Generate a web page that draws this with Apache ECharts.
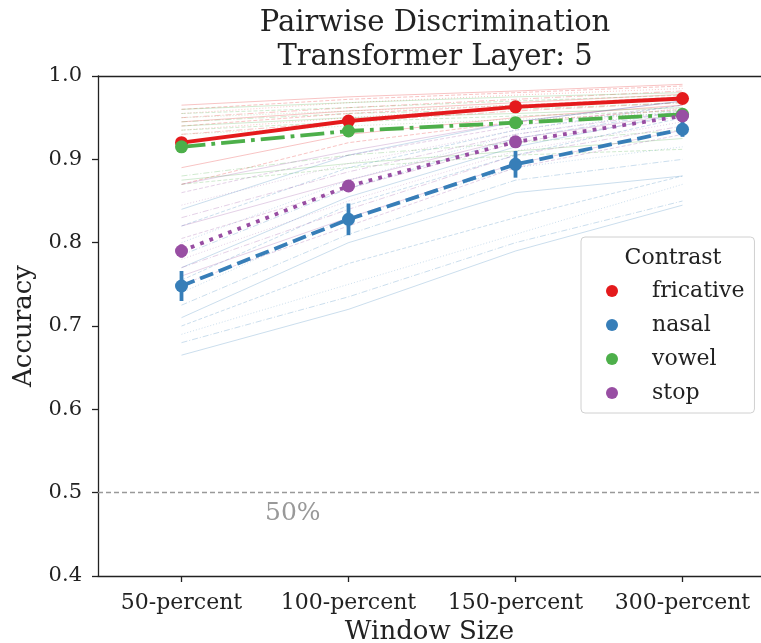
<!DOCTYPE html>
<html>
<head>
<meta charset="utf-8">
<script src="https://cdn.jsdelivr.net/npm/echarts@6/dist/echarts.min.js"></script>
<style>
  html, body { margin: 0; padding: 0; background: #fff; overflow: hidden; }
  #chart { width: 761px; height: 643px; }
</style>
</head>
<body>
<div id="chart"></div>
<script>
// Window sizes on the x axis
const categories = ['50-percent', '100-percent', '150-percent', '300-percent'];
const yTicks = [0.4, 0.5, 0.6, 0.7, 0.8, 0.9, 1.0];

// Contrast groups and their mean accuracy per window size
const contrasts = ['fricative', 'nasal', 'vowel', 'stop'];
const fricativeMean = [0.920, 0.946, 0.963, 0.973];
const nasalMean     = [0.748, 0.828, 0.894, 0.936];
const vowelMean     = [0.915, 0.934, 0.944, 0.954];
const stopMean      = [0.790, 0.868, 0.921, 0.952];

// Half-width of the confidence intervals
const fricativeErr = [0.004, 0.004, 0.003, 0.003];
const nasalErr     = [0.018, 0.019, 0.016, 0.009];
const vowelErr     = [0.005, 0.004, 0.004, 0.003];
const stopErr      = [0.008, 0.007, 0.005, 0.004];

// Individual pair accuracies (thin background lines)
const fricativePairs = [
  [0.965, 0.975, 0.982, 0.990],
  [0.960, 0.972, 0.980, 0.988],
  [0.955, 0.968, 0.977, 0.985],
  [0.950, 0.962, 0.972, 0.982],
  [0.945, 0.958, 0.968, 0.978],
  [0.940, 0.955, 0.965, 0.975],
  [0.935, 0.950, 0.962, 0.972],
  [0.930, 0.945, 0.958, 0.968],
  [0.890, 0.930, 0.950, 0.965],
  [0.870, 0.920, 0.945, 0.960]
];
const nasalPairs = [
  [0.840, 0.905, 0.945, 0.970],
  [0.820, 0.890, 0.935, 0.965],
  [0.800, 0.875, 0.930, 0.960],
  [0.785, 0.865, 0.925, 0.958],
  [0.770, 0.855, 0.915, 0.955],
  [0.755, 0.845, 0.905, 0.950],
  [0.740, 0.830, 0.890, 0.915],
  [0.725, 0.810, 0.875, 0.900],
  [0.710, 0.800, 0.860, 0.880],
  [0.700, 0.775, 0.830, 0.880],
  [0.690, 0.750, 0.810, 0.870],
  [0.680, 0.735, 0.800, 0.850],
  [0.665, 0.720, 0.790, 0.845]
];
const vowelPairs = [
  [0.960, 0.968, 0.975, 0.980],
  [0.955, 0.962, 0.970, 0.977],
  [0.950, 0.958, 0.965, 0.972],
  [0.945, 0.955, 0.960, 0.968],
  [0.940, 0.950, 0.955, 0.962],
  [0.935, 0.945, 0.952, 0.958],
  [0.930, 0.940, 0.948, 0.955],
  [0.880, 0.905, 0.920, 0.935],
  [0.875, 0.895, 0.910, 0.925],
  [0.870, 0.890, 0.905, 0.912]
];
const stopPairs = [
  [0.870, 0.910, 0.945, 0.970],
  [0.860, 0.905, 0.940, 0.965],
  [0.845, 0.895, 0.935, 0.962],
  [0.830, 0.885, 0.930, 0.958],
  [0.820, 0.875, 0.925, 0.955],
  [0.805, 0.865, 0.920, 0.952],
  [0.780, 0.850, 0.910, 0.945],
  [0.770, 0.840, 0.905, 0.940],
  [0.760, 0.830, 0.895, 0.935],
  [0.750, 0.820, 0.890, 0.930]
];

const chanceLevel = 0.5;
const chanceLabel = '50%';

const colors = { fricative: '#e41a1c', nasal: '#377eb8', vowel: '#4daf4a', stop: '#984ea3' };
const LW = 3.8;
const dashStyles = {
  fricative: 'solid',
  nasal: [14, 6],
  vowel: [24, 6, 3.8, 6],
  stop: [3.8, 6.2]
};
const thinStyles = ['solid', [4, 2], [1, 2], [6, 2, 1, 2]];

const groups = {
  fricative: { mean: fricativeMean, err: fricativeErr, pairs: fricativePairs },
  nasal:     { mean: nasalMean,     err: nasalErr,     pairs: nasalPairs },
  vowel:     { mean: vowelMean,     err: vowelErr,     pairs: vowelPairs },
  stop:      { mean: stopMean,      err: stopErr,      pairs: stopPairs }
};

// category positions on a numeric x axis: half a slot of padding on each side,
// the right margin runs past the canvas edge
const catIndex = categories.map((c, i) => i);
const xMin = -0.5;
const xMax = 3.47;
const withIndex = vals => vals.map((v, i) => [catIndex[i], v]);

const FONT = 'DejaVu Serif';
const INK = '#222';
const series = [];

// thin per-pair lines first so they sit underneath
contrasts.forEach(name => {
  groups[name].pairs.forEach((vals, i) => {
    series.push({
      type: 'line',
      name: name + '-pair-' + i,
      data: withIndex(vals),
      symbol: 'none',
      silent: true,
      z: 1,
      lineStyle: { color: colors[name], width: 1, opacity: 0.26, type: thinStyles[i % thinStyles.length] }
    });
  });
});

// chance level reference line
series.push({
  type: 'line',
  name: 'chance',
  data: [],
  silent: true,
  markLine: {
    symbol: 'none',
    silent: true,
    label: { show: false },
    lineStyle: { color: '#999', type: [5, 3], width: 1.3 },
    data: [{ yAxis: chanceLevel }]
  }
});

// error bars and mean lines
contrasts.forEach((name, k) => {
  const g = groups[name];
  series.push({
    type: 'custom',
    name: name + '-ci',
    z: 3 + k,
    silent: true,
    data: g.mean.map((m, i) => [catIndex[i], m - g.err[i], m + g.err[i]]),
    renderItem: function (params, api) {
      const lo = api.coord([api.value(0), api.value(1)]);
      const hi = api.coord([api.value(0), api.value(2)]);
      return {
        type: 'line',
        shape: { x1: lo[0], y1: lo[1], x2: hi[0], y2: hi[1] },
        style: { stroke: colors[name], lineWidth: LW }
      };
    }
  });
  series.push({
    type: 'line',
    name: name,
    data: withIndex(g.mean),
    z: 3 + k,
    symbol: 'circle',
    symbolSize: 13,
    itemStyle: { color: colors[name] },
    lineStyle: { color: colors[name], width: LW, type: dashStyles[name] }
  });
});

const chart = echarts.init(document.getElementById('chart'));
chart.setOption({
  animation: false,
  color: contrasts.map(c => colors[c]),
  title: [
    {
      text: 'Pairwise Discrimination\nTransformer Layer: 5',
      left: 430, top: 1, textAlign: 'center',
      textStyle: { fontFamily: FONT, fontSize: 29, fontWeight: 'normal', color: INK, lineHeight: 34 }
    },
    {
      text: 'Contrast',
      left: 668, top: 242, textAlign: 'center',
      textStyle: { fontFamily: FONT, fontSize: 22, fontWeight: 'normal', color: INK }
    }
  ],
  legend: {
    data: contrasts,
    orient: 'vertical',
    left: 581, top: 237,
    padding: [42, 10, 8, 25],
    itemGap: 10,
    itemWidth: 12, itemHeight: 12,
    icon: 'circle',
    borderColor: '#d0d0d0', borderWidth: 1, borderRadius: 4,
    backgroundColor: 'rgba(255,255,255,0.8)',
    textStyle: { fontFamily: FONT, fontSize: 22, color: INK, padding: [0, 0, 0, 29], lineHeight: 24 }
  },
  grid: { left: 98, right: 0, top: 76, bottom: 67, outerBoundsMode: 'none', containLabel: false },
  xAxis: [
    {
      type: 'value',
      min: xMin, max: xMax,
      name: 'Window Size',
      nameLocation: 'middle',
      nameGap: 37,
      nameTextStyle: { fontFamily: FONT, fontSize: 26, color: INK },
      axisLine: { show: true, onZero: false, lineStyle: { color: INK, width: 1.3 } },
      axisTick: { show: true, customValues: catIndex, length: 6, lineStyle: { color: INK, width: 1.3 } },
      axisLabel: {
        fontFamily: FONT, fontSize: 22, color: INK, margin: 16,
        customValues: catIndex,
        formatter: v => categories[Math.round(v)] || ''
      },
      splitLine: { show: false }
    },
    {
      // top spine
      type: 'value',
      position: 'top',
      min: xMin, max: xMax,
      axisLine: { show: true, onZero: false, lineStyle: { color: INK, width: 1.3 } },
      axisTick: { show: false },
      axisLabel: { show: false },
      splitLine: { show: false }
    }
  ],
  yAxis: {
    type: 'value',
    min: yTicks[0], max: yTicks[yTicks.length - 1], interval: 0.1,
    name: 'Accuracy',
    nameLocation: 'middle',
    nameGap: 60,
    nameTextStyle: { fontFamily: FONT, fontSize: 26, color: INK },
    axisLine: { show: true, onZero: false, lineStyle: { color: INK, width: 1.3 } },
    axisTick: { show: true, length: 6, lineStyle: { color: INK, width: 1.3 } },
    axisLabel: { fontFamily: FONT, fontSize: 21, color: INK, margin: 16, formatter: v => v.toFixed(1) },
    splitLine: { show: false }
  },
  series: series
});

// "50%" annotation, left-aligned halfway between the first two categories
const pt = chart.convertToPixel({ xAxisIndex: 0, yAxisIndex: 0 }, [0.5, 0.46]);
chart.setOption({
  graphic: [{
    type: 'text',
    x: pt[0],
    y: pt[1],
    style: { text: chanceLabel, fontFamily: FONT, fontSize: 25, fill: '#999', textAlign: 'left', textVerticalAlign: 'bottom' },
    silent: true
  }]
});
</script>
</body>
</html>
